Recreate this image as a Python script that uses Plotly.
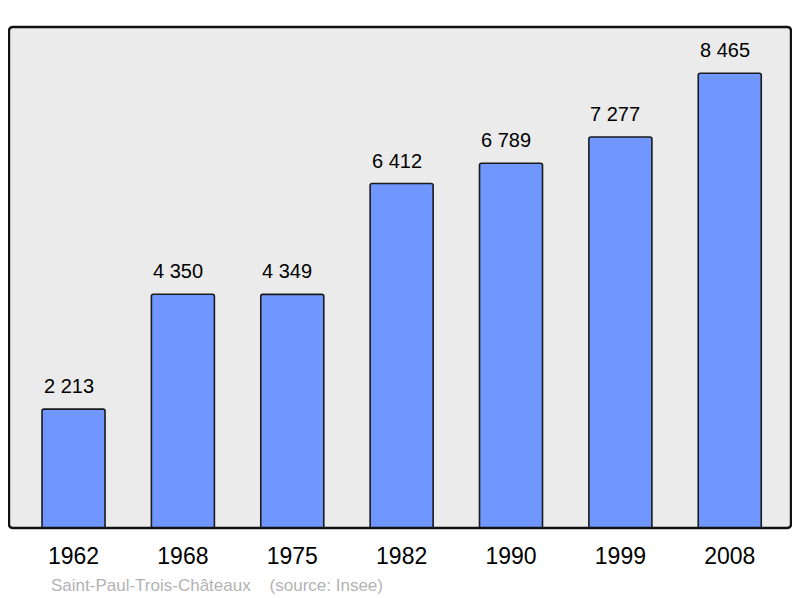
import plotly.graph_objects as go

years = ["1962", "1968", "1975", "1982", "1990", "1999", "2008"]
population = [2213, 4350, 4349, 6412, 6789, 7277, 8465]
labels = [f"{v:,}".replace(",", " ") for v in population]
footer = "Saint-Paul-Trois-Châteaux    (source: Insee)"

# page body has an 8px margin, so the figure is drawn 8px right/down
OFF = 8
W, H = 800 - OFF, 598 - OFF
L, T = 9 - OFF, 27 - OFF
R = W - (791 - OFF)
B = H - (528 - OFF)
pw, ph = W - L - R, H - T - B

fig = go.Figure()
fig.add_trace(go.Bar(
    x=list(range(len(years))), y=population,
    width=0.576,
    marker=dict(color="#7097ff", line=dict(color="#1a1a1a", width=1.6), cornerradius=2),
    hoverinfo="skip",
))

for i, (v, lab) in enumerate(zip(population, labels)):
    fig.add_annotation(x=i, y=v, xref="x", yref="y", text=lab, showarrow=False,
                       yanchor="middle", yshift=23, xshift=-5,
                       font=dict(size=20, color="#000000"))

fig.add_annotation(xref="paper", yref="paper", x=(49 - 9) / pw, y=-(585 - 528) / ph,
                   xanchor="left", yanchor="middle", text=footer.replace("    ", "&nbsp;&nbsp;&nbsp; "),
                   showarrow=False, font=dict(size=17, color="#b3b3b3"))

# rounded frame in paper coords
rx, ry = 4 / pw, 4 / ph
path = (f"M {rx},0 L {1-rx},0 Q 1,0 1,{ry} L 1,{1-ry} Q 1,1 {1-rx},1 "
        f"L {rx},1 Q 0,1 0,{1-ry} L 0,{ry} Q 0,0 {rx},0 Z")
fig.add_shape(type="path", xref="paper", yref="paper", path=path,
              line=dict(color="#111111", width=2.4), layer="above")

fig.update_layout(
    width=W, height=H,
    margin=dict(l=L, r=R, t=T, b=B, pad=0),
    paper_bgcolor="#ffffff", plot_bgcolor="#ebebeb",
    font=dict(family="Liberation Sans, Arial, sans-serif"),
    showlegend=False,
    xaxis=dict(range=[-0.59, 6.56], showgrid=False, zeroline=False,
               showline=False, ticks="", tickmode="array",
               tickvals=list(range(len(years))), ticktext=years,
               tickfont=dict(size=23, color="#000000"), ticklabelstandoff=12),
    yaxis=dict(range=[0, 9326], showgrid=False, zeroline=False, showline=False,
               showticklabels=False, ticks=""),
)

fig.write_html("out.html")
